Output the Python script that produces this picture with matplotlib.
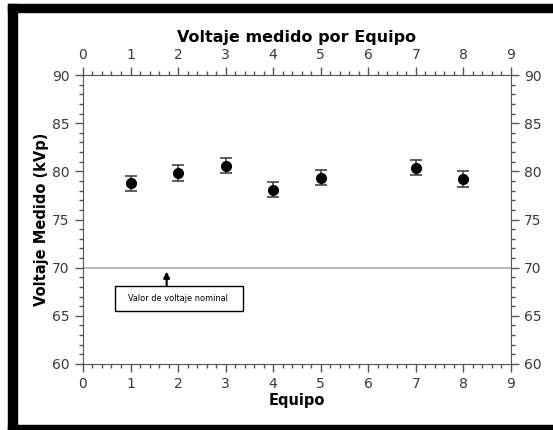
import matplotlib
matplotlib.use('Agg')
import matplotlib.pyplot as plt
from matplotlib.patches import Rectangle
from matplotlib.ticker import MultipleLocator

equipos = [1, 2, 3, 4, 5, 7, 8]
voltaje = [78.75, 79.85, 80.6, 78.1, 79.35, 80.4, 79.2]
error = [0.8, 0.8, 0.8, 0.8, 0.8, 0.8, 0.8]
nominal = 70

fig = plt.figure(figsize=(5.53, 4.30), dpi=100)
ax = fig.add_axes([0.150, 0.1535, 0.774, 0.672])

gray = '#555555'
ax.axhline(nominal, color='#bbbbbb', lw=1.5, zorder=1)
ax.errorbar(equipos, voltaje, yerr=error, fmt='o', color='black', ms=7,
            ecolor='#444444', elinewidth=1.2, capsize=4, capthick=1.2, zorder=3)

ax.set_xlim(0, 9)
ax.set_ylim(60, 90)
ax.xaxis.set_major_locator(MultipleLocator(1))
ax.xaxis.set_minor_locator(MultipleLocator(0.2))
ax.yaxis.set_major_locator(MultipleLocator(5))
ax.yaxis.set_minor_locator(MultipleLocator(1))
ax.tick_params(which='both', direction='out', color=gray, labelcolor='#3a3a3a',
               top=True, right=True, labeltop=True, labelright=True, labelsize=10)
ax.tick_params(which='major', length=6, width=1)
ax.tick_params(which='minor', length=3, width=1)
for sp in ax.spines.values():
    sp.set_color(gray)

ax.set_xlabel('Equipo', fontweight='bold', fontsize=10.5, labelpad=1)
ax.set_ylabel('Voltaje Medido (kVp)', fontweight='bold', fontsize=10.5, labelpad=2)
ax.set_title('Voltaje medido por Equipo', fontweight='bold', fontsize=11.5, pad=4)

# nominal value note
ax.add_patch(Rectangle((0.67, 65.5), 2.69, 2.6, fill=False, ec='black', lw=1, zorder=4))
ax.text(2.0, 66.8, 'Valor de voltaje nominal', fontsize=6.6, ha='center', va='center',
        fontstretch='condensed', zorder=5)
ax.annotate('', xy=(1.76, 69.6), xytext=(1.76, 68.1),
            arrowprops=dict(arrowstyle='-|>', color='black', lw=1.5, mutation_scale=9,
                            shrinkA=0, shrinkB=0))

# black frame around the picture
fig.add_artist(Rectangle((8 / 553, 0), 9 / 553, 1 - 4 / 430, transform=fig.transFigure,
                         color='black', zorder=10))
fig.add_artist(Rectangle((8 / 553, 1 - 12 / 430), 1, 8 / 430, transform=fig.transFigure,
                         color='black', zorder=10))
fig.add_artist(Rectangle((8 / 553, 0), 1, 5 / 430, transform=fig.transFigure,
                         color='black', zorder=10))

fig.savefig('out.png', dpi=100)
